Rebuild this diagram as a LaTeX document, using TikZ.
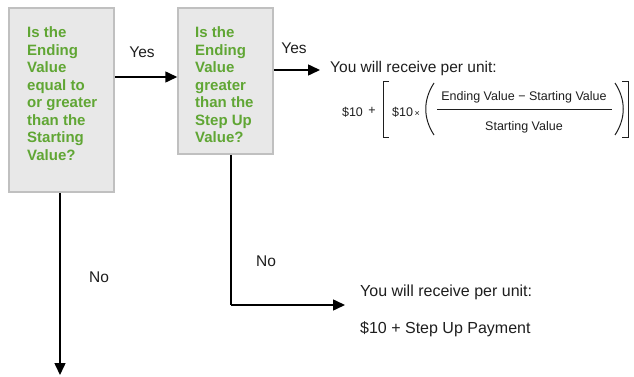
\documentclass[tikz,border=0pt]{standalone}
\usepackage{fontspec}
\setmainfont{Liberation Sans}
\usetikzlibrary{arrows.meta}
\definecolor{qgreen}{RGB}{96,166,52}
\definecolor{boxfill}{RGB}{232,232,232}
\definecolor{boxline}{RGB}{192,192,192}
\definecolor{ink}{RGB}{30,30,30}
\tikzset{
  qbox/.style={draw=boxline, fill=boxfill, line width=1.5pt, inner sep=0pt},
  qtext/.style={text=qgreen, font=\fontsize{15}{17.5}\bfseries\selectfont, align=left, inner sep=0pt, anchor=north west},
  lbl/.style={text=ink, font=\fontsize{15.5}{18}\selectfont, inner sep=0pt},
  res/.style={text=ink, font=\fontsize{16}{19}\selectfont, inner sep=0pt, anchor=west},
  fml/.style={text=ink, font=\fontsize{12.5}{14}\selectfont, inner sep=0pt},
  arr/.style={draw=black, line width=1.5pt, -{Triangle[length=12pt,width=11pt]}},
  ln/.style={draw=black, line width=1.5pt},
  delim/.style={draw=ink, line width=1pt},
}
\begin{document}
\begin{tikzpicture}[x=1pt,y=-1pt]
\useasboundingbox (0,0) rectangle (634,377);
% boxes
\node[qbox, minimum width=105pt, minimum height=184pt] (q1) at (61.5,100) {};
\node[qtext] (q1t) at (27,26.7) {Is the\\Ending\\Value\\equal to\\or greater\\than the\\Starting\\Value?};
\node[qbox, minimum width=95pt, minimum height=146pt] (q2) at (225.5,81) {};
\node[qtext] (q2t) at (195,26.7) {Is the\\Ending\\Value\\greater\\than the\\Step Up\\Value?};
% labels
\node[lbl] (yes1) at (142,52) {Yes};
\node[lbl] (yes2) at (294,48) {Yes};
\node[lbl] (no1) at (99,277) {No};
\node[lbl] (no2) at (266,261) {No};
% results
\node[res, font=\fontsize{15.5}{18}\selectfont] (r1) at (330,68) {You will receive per unit:};
\node[res] (r2) at (360,292) {You will receive per unit:};
\node[res] (r3) at (360,329) {\$10 + Step Up Payment};
% formula
\node[fml] (f10) at (352.5,112) {\$10};
\node[fml] (fplus) at (372,111) {+};
\node[fml] (f10x) at (406,112) {\$10{\fontsize{9}{9}\selectfont\,×}};
\node[fml] (fnum) at (524,97) {Ending Value − Starting Value};
\node[fml] (fden) at (524,127) {Starting Value};
\draw[draw=ink, line width=0.8pt] (437,109) -- (612,109);
\draw[delim] (389,82) -- (383,82) -- (383,137) -- (389,137);
\draw[delim] (622,82) -- (628,82) -- (628,137) -- (622,137);
\draw[delim] (434,83) .. controls (423,100) and (423,118) .. (434,135);
\draw[delim] (615,83) .. controls (626,100) and (626,118) .. (615,135);
% connectors
\coordinate (t1) at (320,70);
\coordinate (e1) at (60,375);
\coordinate (c2) at (231,305);
\coordinate (t2) at (345,305);
\draw[arr] (q1.east |- 0,77) -- (q2.west |- 0,77);
\draw[arr] (q2.east |- t1) -- (t1);
\draw[arr] (q1.south -| e1) -- (e1);
\draw[ln] (q2.south -| c2) -- (c2);
\draw[arr] (c2) -- (t2);
\end{tikzpicture}
\end{document}
